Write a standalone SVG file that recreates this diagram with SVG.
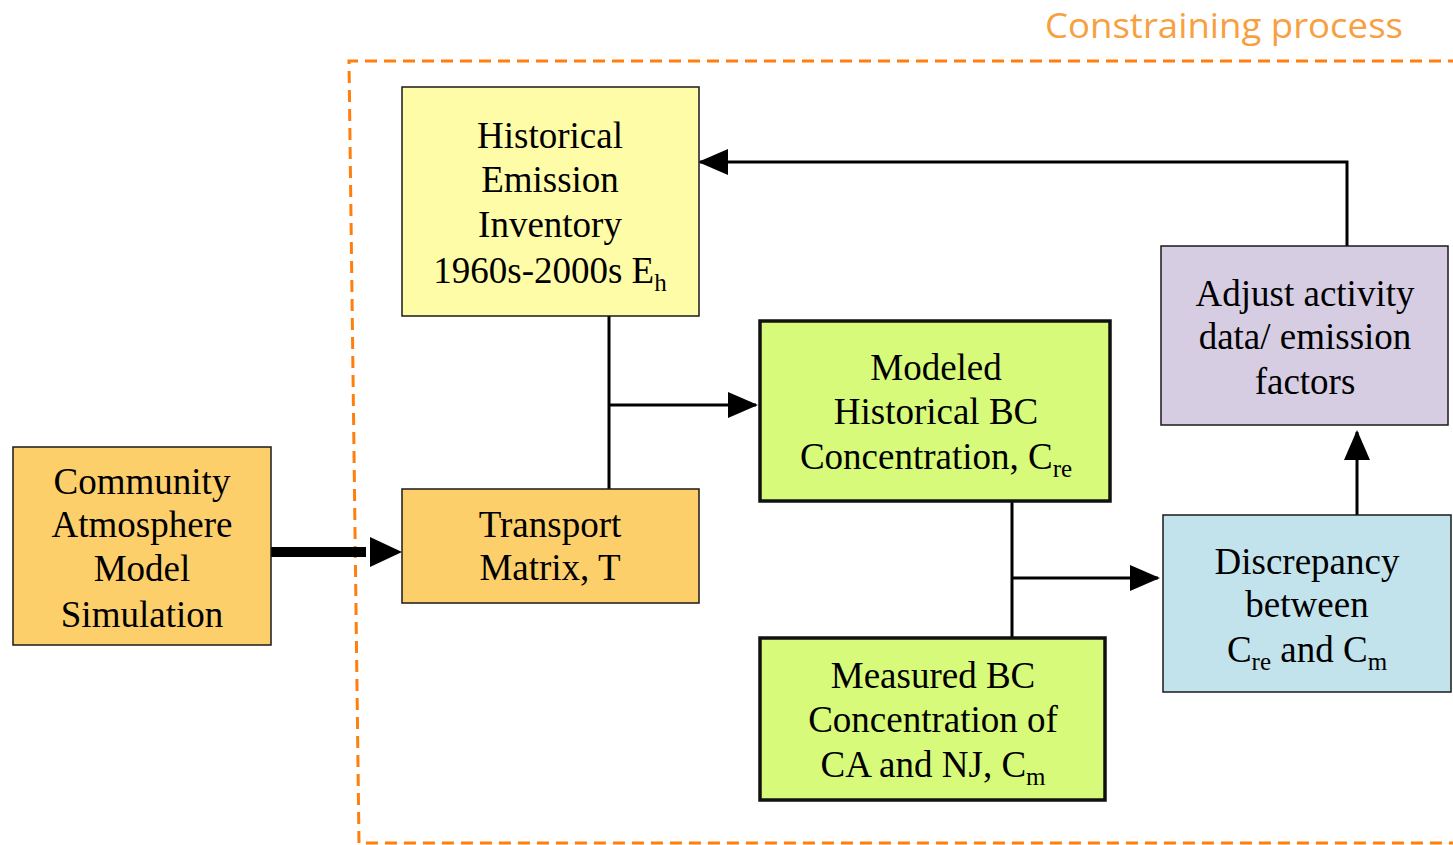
<svg xmlns="http://www.w3.org/2000/svg" width="1453" height="845" viewBox="0 0 1453 845">
<style>
.t{font-family:"Liberation Serif","Times New Roman",serif;font-size:37px;fill:#000;text-anchor:middle}
.s{font-size:25px}
.box{stroke:#1a1a1a;stroke-width:1.5}
.bold{stroke:#111;stroke-width:3.5}
.c{fill:none;stroke:#000;stroke-width:3}
</style>
<defs>
<marker id="ah" markerUnits="userSpaceOnUse" markerWidth="30" markerHeight="26" viewBox="0 0 30 26" refX="28" refY="13" orient="auto">
<path d="M0,0 L30,13 L0,26 Z" fill="#000"/>
</marker>
</defs>
<rect width="1453" height="845" fill="#fff"/>
<g id="constraining-region">
<path d="M1460,61 L349,61 L359,843 L1460,843" fill="none" stroke="#FF7F0E" stroke-width="3" stroke-dasharray="12 7"/>
<text x="1045" y="38" font-family="'Open Sans','Liberation Sans',sans-serif" font-size="34" fill="#F8A03F" textLength="358" lengthAdjust="spacingAndGlyphs">Constraining process</text>
</g>
<g id="connectors">
<line x1="271" y1="552" x2="366" y2="552" stroke="#000" stroke-width="10"/>
<polygon points="370,537 402,552 370,567" fill="#000"/>
<line class="c" x1="609" y1="316" x2="609" y2="489"/>
<line class="c" x1="609" y1="405" x2="756" y2="405" marker-end="url(#ah)"/>
<line class="c" x1="1012" y1="501" x2="1012" y2="638"/>
<line class="c" x1="1012" y1="578" x2="1158" y2="578" marker-end="url(#ah)"/>
<line class="c" x1="1357" y1="515" x2="1357" y2="432" marker-end="url(#ah)"/>
<polyline class="c" points="1347,246 1347,162 700,162" marker-end="url(#ah)"/>
</g>
<g id="historical-emission">
<rect class="box" x="402" y="87" width="297" height="229" fill="#FFFCA8"/>
<text class="t" x="550" y="148">Historical</text>
<text class="t" x="550" y="192">Emission</text>
<text class="t" x="550" y="237">Inventory</text>
<text class="t" x="550" y="283">1960s-2000s E<tspan class="s" dy="8">h</tspan></text>
</g>
<g id="transport-matrix">
<rect class="box" x="402" y="489" width="297" height="114" fill="#FDCF6B"/>
<text class="t" x="550" y="537">Transport</text>
<text class="t" x="550" y="580">Matrix, T</text>
</g>
<g id="cam-simulation">
<rect class="box" x="13" y="447" width="258" height="198" fill="#FDCF6B"/>
<text class="t" x="142" y="494">Community</text>
<text class="t" x="142" y="537">Atmosphere</text>
<text class="t" x="142" y="581">Model</text>
<text class="t" x="142" y="627">Simulation</text>
</g>
<g id="modeled-bc">
<rect class="bold" x="760" y="321" width="350" height="180" fill="#D7FA7A"/>
<text class="t" x="936" y="380">Modeled</text>
<text class="t" x="936" y="424">Historical BC</text>
<text class="t" x="936" y="469">Concentration, C<tspan class="s" dy="8">re</tspan></text>
</g>
<g id="measured-bc">
<rect class="bold" x="760" y="638" width="345" height="162" fill="#D7FA7A"/>
<text class="t" x="933" y="688">Measured BC</text>
<text class="t" x="933" y="732">Concentration of</text>
<text class="t" x="933" y="777">CA and NJ, C<tspan class="s" dy="8">m</tspan></text>
</g>
<g id="adjust-activity">
<rect class="box" x="1161" y="246" width="287" height="179" fill="#D6CDE3"/>
<text class="t" x="1305" y="306">Adjust activity</text>
<text class="t" x="1305" y="349">data/ emission</text>
<text class="t" x="1305" y="394">factors</text>
</g>
<g id="discrepancy">
<rect class="box" x="1163" y="515" width="288" height="177" fill="#C3E3EC"/>
<text class="t" x="1307" y="574">Discrepancy</text>
<text class="t" x="1307" y="617">between</text>
<text class="t" x="1307" y="662">C<tspan class="s" dy="8">re</tspan><tspan dy="-8"> and C</tspan><tspan class="s" dy="8">m</tspan></text>
</g>
</svg>
